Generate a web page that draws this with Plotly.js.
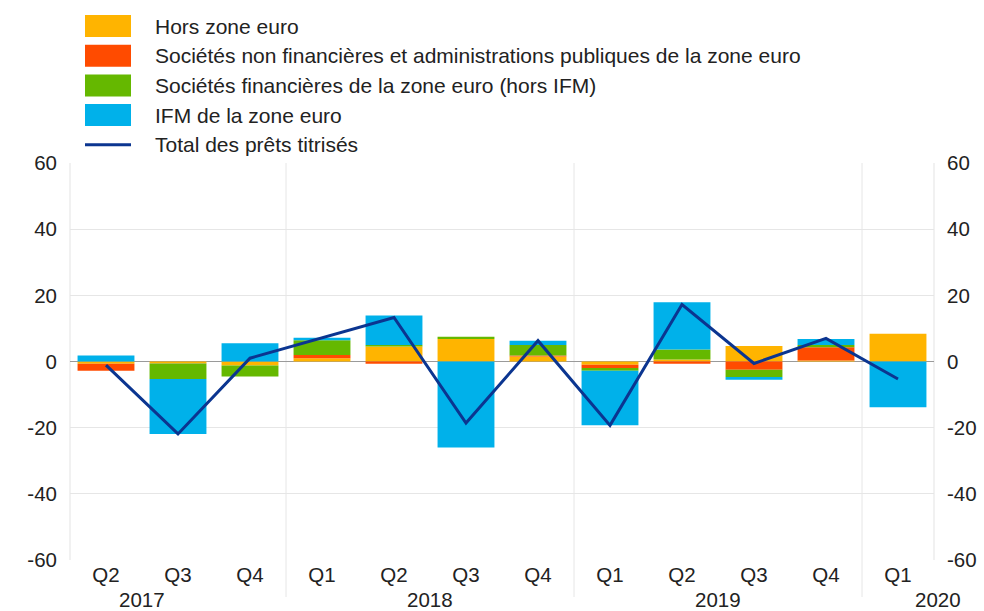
<!DOCTYPE html>
<html>
<head>
<meta charset="utf-8">
<script src="https://cdn.plot.ly/plotly-3.0.1.min.js"></script>
<style>html,body{margin:0;padding:0;background:#fff;}#chart{width:984px;height:611px;}</style>
</head>
<body>
<div id="chart"></div>
<script>
// ---- data ----
const categories = ["2017 Q2","2017 Q3","2017 Q4","2018 Q1","2018 Q2","2018 Q3","2018 Q4","2019 Q1","2019 Q2","2019 Q3","2019 Q4","2020 Q1"];
const quarterLabels = ["Q2","Q3","Q4","Q1","Q2","Q3","Q4","Q1","Q2","Q3","Q4","Q1"];
const yearLabels = ["2017","2018","2019","2020"];
const yearPositions = [0.5, 4.5, 8.5, 11.55];
const horsZoneEuro = [-0.7, -0.5, -1.2, 1.0, 4.5, 6.8, 1.5, -1.0, 0.6, 4.7, 0.3, 8.4];
const snfApu       = [-2.1, -0.1, 0.0, 1.0, -0.7, 0.0, 0.3, -1.0, -0.7, -2.5, 4.0, 0.0];
const sfHorsIfm    = [0.0, -4.7, -3.3, 4.4, 0.5, 0.7, 3.2, -0.8, 3.0, -2.2, 0.7, 0.0];
const ifm          = [1.8, -16.6, 5.5, 0.8, 8.9, -26.0, 1.3, -16.5, 14.3, -0.8, 1.8, -13.8];
const totalTitrises= [-1.1, -21.9, 1.0, 7.2, 13.3, -18.6, 6.3, -19.3, 17.2, -0.6, 7.0, -5.3];
const seriesNames = ["Hors zone euro","Sociétés non financières et administrations publiques de la zone euro","Sociétés financières de la zone euro (hors IFM)","IFM de la zone euro","Total des prêts titrisés"];
const yTicks = [-60,-40,-20,0,20,40,60];

// ---- styles ----
const colors = ["#FFB400","#FF4B00","#65B800","#00B1EA","#0B3590"];
const FONT = "Liberation Sans, Arial, sans-serif";
const fs = 20.5;
const legFs = 21;

const barSeries = [horsZoneEuro, snfApu, sfHorsIfm, ifm];
const traces = barSeries.map((vals, i) => ({
  type: "bar", x: categories, y: vals, name: seriesNames[i],
  marker: {color: colors[i], line: {width: 0}}, showlegend: false, hoverinfo: "y"
}));
traces.push({
  type: "scatter", mode: "lines", x: categories, y: totalTitrises, name: seriesNames[4],
  line: {color: colors[4], width: 3}, showlegend: false
});
// invisible trace for right axis
traces.push({type: "scatter", x: categories, y: totalTitrises, yaxis: "y2", mode: "lines",
  line: {width: 0}, opacity: 0, showlegend: false, hoverinfo: "skip"});

const shapes = [];
const annotations = [];
// custom legend
const legTop = 15, legStep = 29.7, swH = 22;
const H = 611, W = 984;
const mL = 70, mR = 50, mT = 163, mB = 51;
const plotW = W - mL - mR, plotH = H - mT - mB;
function px2paperX(px){ return (px - mL) / plotW; }
function px2paperY(py){ return (H - mB - py) / plotH; }
function cat2px(i){ return mL + plotW * (i + 0.5) / categories.length; }
for (let i = 0; i < 5; i++) {
  const top = legTop + i * legStep;
  const cy = top + swH / 2;
  if (i < 4) {
    shapes.push({type: "rect", xref: "paper", yref: "paper",
      x0: px2paperX(85), x1: px2paperX(131), y0: px2paperY(top), y1: px2paperY(top + swH),
      fillcolor: colors[i], line: {width: 0}});
  } else {
    shapes.push({type: "line", xref: "paper", yref: "paper",
      x0: px2paperX(85), x1: px2paperX(131), y0: px2paperY(cy), y1: px2paperY(cy),
      line: {color: colors[i], width: 3}});
  }
  annotations.push({xref: "paper", yref: "paper", x: px2paperX(153), y: px2paperY(cy),
    xanchor: "left", yanchor: "middle", showarrow: false, text: seriesNames[i],
    font: {family: FONT, size: legFs, color: "#222"}});
}
// year labels (paper-referenced so that labels outside the category range still show)
yearLabels.forEach((t, i) => annotations.push({
  xref: "paper", yref: "paper", x: px2paperX(cat2px(yearPositions[i])), y: px2paperY(599),
  xanchor: "center", yanchor: "middle",
  showarrow: false, text: t, font: {family: FONT, size: fs, color: "#222"}
}));
// year separators (vertical gridlines)
[2.5, 6.5, 10.5].forEach(v => shapes.push({type: "line", xref: "x", yref: "paper",
  x0: v, x1: v, y0: px2paperY(597), y1: 1, line: {color: "#e6e6e6", width: 1}, layer: "below"}));
// plot borders left/right
shapes.push({type: "line", xref: "paper", yref: "paper", x0: 0, x1: 0, y0: 0, y1: 1, line: {color: "#e3e3e3", width: 1}, layer: "below"});
shapes.push({type: "line", xref: "paper", yref: "paper", x0: 1, x1: 1, y0: 0, y1: 1, line: {color: "#e3e3e3", width: 1}, layer: "below"});

const layout = {
  width: W, height: H,
  margin: {l: mL, r: mR, t: mT, b: mB},
  paper_bgcolor: "#fff", plot_bgcolor: "#fff",
  barmode: "relative", bargap: 0.21,
  showlegend: false,
  font: {family: FONT, size: fs, color: "#222"},
  xaxis: {type: "category", tickvals: categories, ticktext: quarterLabels,
    showgrid: false, zeroline: false, showline: false, ticks: "", ticklen: 0,
    tickfont: {family: FONT, size: fs, color: "#222"}, range: [-0.5, 11.5], fixedrange: true},
  yaxis: {range: [-60, 60], tickvals: yTicks, ticktext: yTicks.map(String),
    showgrid: true, gridcolor: "#e6e6e6", gridwidth: 1,
    zeroline: true, zerolinecolor: "#9a9a9a", zerolinewidth: 1.3,
    showline: false, ticks: "", ticklabelstandoff: 12,
    tickfont: {family: FONT, size: fs, color: "#222"}},
  yaxis2: {overlaying: "y", side: "right", range: [-60, 60], tickvals: yTicks, ticktext: yTicks.map(String),
    showgrid: false, zeroline: false, showline: false, ticks: "", ticklabelstandoff: 12,
    tickfont: {family: FONT, size: fs, color: "#222"}},
  shapes: shapes, annotations: annotations
};
Plotly.newPlot("chart", traces, layout, {displayModeBar: false, staticPlot: true});
</script>
</body>
</html>
